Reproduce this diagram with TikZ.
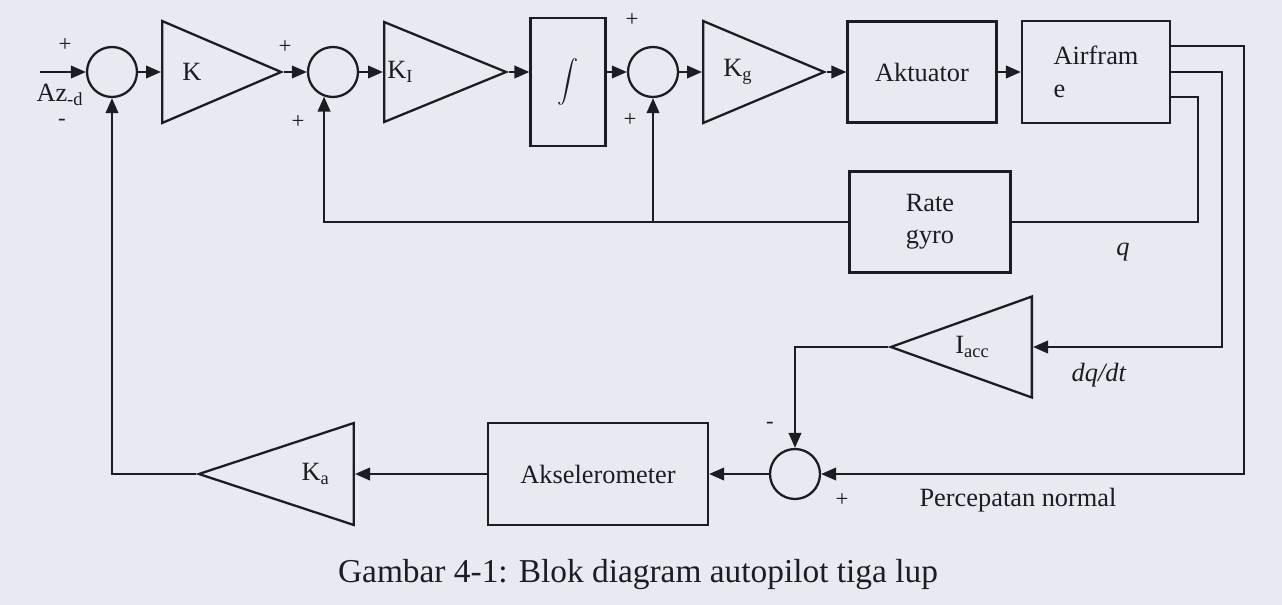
\documentclass[tikz,border=0pt]{standalone}
\usepackage{amsmath}
\usepackage{fontspec}
\setmainfont{Liberation Serif}
\usetikzlibrary{arrows.meta, positioning, calc, shapes.geometric}
\definecolor{paper}{HTML}{E8EAF1}
\definecolor{ink}{HTML}{1C1C22}

\begin{document}
\begin{tikzpicture}[x=0.02cm, y=-0.02cm,
  >={Triangle[length=3mm, width=2.5mm]},
  sumnode/.style={draw=ink, circle, line width=1.3pt, minimum size=10mm, inner sep=0pt},
  gain/.style={draw=ink, isosceles triangle, isosceles triangle stretches,
    shape border rotate=#1, line width=1.3pt, inner sep=0pt},
  blk/.style={draw=ink, line width=1.3pt, font=\fontsize{15}{18}\selectfont,
    text=ink, align=center, inner sep=2pt},
  arr/.style={->, line width=1.3pt, draw=ink},
  wire/.style={line width=1.3pt, draw=ink},
  lbl/.style={font=\fontsize{15}{18}\selectfont, text=ink, inner sep=0pt},
  sgn/.style={font=\fontsize{13}{15}\selectfont, text=ink, inner sep=0pt},
]

% Background
\fill[paper] (0,0) rectangle (1282,605);
\useasboundingbox (0,0) rectangle (1282,605);

% =============================================
% Forward path
% =============================================
\coordinate (in) at (40,72);
\node[sumnode] (s1) at (112,72) {};
\node[gain=0, anchor=west, minimum height=2.38cm, minimum width=2.04cm] (gK) at (161,72) {};
\node[sumnode] (s2) at (333,72) {};
\node[gain=0, anchor=west, minimum height=2.44cm, minimum width=2.0cm] (gKI) at (383,72) {};
\node[blk, minimum width=1.5cm, minimum height=2.56cm,
      font=\fontsize{13}{16}\selectfont] (integ) at (568,82) {$\displaystyle\int$};
\node[sumnode] (s3) at (653,72) {};
\node[gain=0, anchor=west, minimum height=2.42cm, minimum width=2.04cm] (gKg) at (702,72) {};
\node[blk, minimum width=2.98cm, minimum height=2.02cm] (akt) at (922,72) {Aktuator};
\node[blk, minimum width=2.96cm, minimum height=2.04cm, align=left,
      font=\fontsize{15}{19}\selectfont] (afr) at (1096,72) {Airfram\\e};

% gain labels
\node[lbl, anchor=west] (tK) at ([xshift=4.2mm]gK.west) {K};
\node[lbl, anchor=west] (tKI) at ([xshift=0.8mm]gKI.west) {K\textsubscript{I}};
\node[lbl, anchor=west] (tKg) at ([xshift=4.2mm]gKg.west) {K\textsubscript{g}};

% =============================================
% Feedback blocks
% =============================================
\node[blk, minimum width=3.22cm, minimum height=2.02cm] (gyro) at (930,222) {Rate\\gyro};
\node[gain=180, anchor=east, minimum height=2.82cm, minimum width=2.02cm] (gIacc) at (1033,347) {};
\node[lbl, anchor=east] (tIacc) at ([xshift=-8.6mm]gIacc.east) {I\textsubscript{acc}};
\node[sumnode] (s4) at (795,474) {};
\node[blk, minimum width=4.4cm, minimum height=2.04cm] (aks) at (598,474) {Akselerometer};
\node[gain=180, anchor=east, minimum height=3.1cm, minimum width=2.04cm] (gKa) at (355,474) {};
\node[lbl, anchor=east] (tKa) at ([xshift=-5mm]gKa.east) {K\textsubscript{a}};

% corner points of the feedback wires
\coordinate (c1) at (1244,474);
\coordinate (c2) at (1222,347);
\coordinate (c3) at (1198,222);

% =============================================
% Arrows
% =============================================
\draw[arr] (in) -- (s1.west);
\draw[arr] (s1.east) -- (gK.west);
\draw[arr] (gK.east) -- (s2.west);
\draw[arr] (s2.east) -- (gKI.west);
\draw[arr] (gKI.east) -- (gKI.east -| integ.west);
\draw[arr] (integ.east |- s3.west) -- (s3.west);
\draw[arr] (s3.east) -- (gKg.west);
\draw[arr] (gKg.east) -- (akt.west);
\draw[arr] (akt.east) -- (afr.west);

% airframe outputs
\draw[arr] ([yshift=5.2mm]afr.east) -| (c1) -- (s4.east);
\draw[arr] (afr.east) -| (c2) -- (gIacc.east);
\draw[wire] ([yshift=-5mm]afr.east) -| (c3) -- (gyro.east);

% rate gyro to the inner sums
\draw[arr] (gyro.west) -| (s2.-110);
\draw[arr] (gyro.west -| s3.south) -- (s3.south);

% acceleration loop
\draw[arr] (gIacc.west) -| (s4.north);
\draw[arr] (s4.west) -- (aks.east);
\draw[arr] (aks.west) -- (gKa.east);
\draw[arr] (gKa.west) -| (s1.south);

% =============================================
% Signs and signal labels
% =============================================
\node[sgn] (p1) at (65,45) {+};
\node[sgn] (m1) at (62,122) {-};
\node[lbl] (azd) at (60,95) {Az\textsubscript{-d}};
\node[sgn] (p2) at (285,47) {+};
\node[sgn] (p2b) at (298,122) {+};
\node[sgn] (p3) at (632,20) {+};
\node[sgn] (p3b) at (630,120) {+};
\node[sgn] (m4) at (770,425) {-};
\node[sgn] (p4) at (842,500) {+};
\node[lbl] (lq) at (1123,252) {\textit{q}};
\node[lbl] (ldq) at (1099,375) {\textit{dq/dt}};
\node[lbl] (lpn) at (1018,500) {Percepatan normal};

% Caption
\node[font=\fontsize{19}{22}\selectfont, text=ink] (cap) at (638,575)
  {Gambar 4-1: Blok diagram autopilot tiga lup};

\end{tikzpicture}
\end{document}
